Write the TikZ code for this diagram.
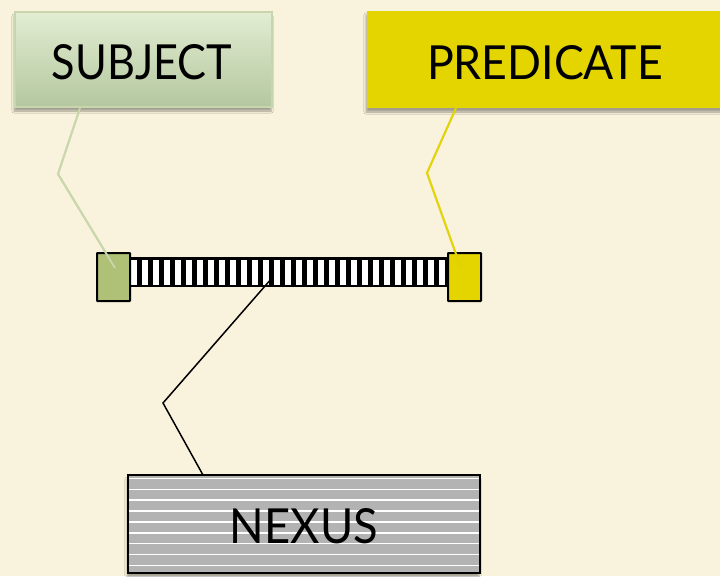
\documentclass[tikz,border=0pt]{standalone}
\usepackage{fontspec}
\setmainfont{Lato}
\usetikzlibrary{shadows.blur}
\definecolor{paper}{HTML}{F9F2DC}
\definecolor{subjtop}{HTML}{E2EDD3}
\definecolor{subjbot}{HTML}{B4C79E}
\definecolor{subjedge}{HTML}{C7D6AE}
\definecolor{subjlink}{HTML}{C8D8AA}
\definecolor{subjsq}{HTML}{AFC077}
\definecolor{predfill}{HTML}{E4D500}
\definecolor{nexusgray}{HTML}{B3B3B3}
\tikzset{
  label box/.style={minimum width=#1, inner sep=0pt, outer sep=0pt,
    blur shadow={shadow xshift=-1pt, shadow yshift=-4pt, shadow blur steps=6, shadow opacity=35}},
  big text/.style={font=\fontsize{46}{50}\selectfont},
  end square/.style={draw=black, line width=2pt, rounded corners=0.6pt, minimum width=33pt, minimum height=48pt, inner sep=0pt},
  link/.style={line width=2pt},
}
\begin{document}
\begin{tikzpicture}[x=1pt, y=-1pt]
  \useasboundingbox (0,0) rectangle (720,576);
  \fill[paper] (0,0) rectangle (720,576);

  % heading boxes
  \node[label box=257pt, minimum height=95pt, top color=subjtop, bottom color=subjbot,
        draw=subjedge, line width=1.5pt, anchor=north west] (subject) at (15,12) {};
  \node[big text] (subjtxt) at (142,62) {\resizebox{180pt}{35pt}{SUBJECT}};

  \node[label box=360pt, minimum height=97pt, fill=predfill, anchor=north west] (predicate) at (367,11) {};
  \node[big text] (predtxt) at (545,63) {\resizebox{236pt}{34pt}{PREDICATE}};

  % the link: black bar with white rungs
  \node[fill=black, minimum width=321pt, minimum height=30pt, inner sep=0pt, anchor=north west] (bar) at (128,257) {};
  \foreach \k in {0,...,28} {
    \fill[white] ({131+11*\k},260) rectangle ({137+11*\k},285);
  }
  \node[end square, fill=subjsq, anchor=north west] (sq1) at (96,252) {};
  \node[end square, fill=predfill, anchor=north west] (sq2) at (447,252) {};

  % nexus box with horizontal stripes
  \node[label box=352pt, minimum height=98pt, fill=nexusgray, anchor=north west] (nexus) at (128,475) {};
  \foreach \y in {478.3,489.2,500.1,511,521.9,532.8,543.7,554.6,565.5} {
    \draw[white, line width=1.4pt] (129,\y) -- (479,\y);
  }
  \draw[black, line width=2pt] (nexus.north west) rectangle (nexus.south east);
  \node[big text] (nexustxt) at (304,526) {\resizebox{148pt}{35pt}{NEXUS}};

  % connectors
  \coordinate (sbend) at (58,174);
  \coordinate (send) at (115,268);
  \coordinate (sstart) at (80,108);
  \coordinate (pbend) at (427,173);
  \coordinate (pend) at (461,268);
  \coordinate (pstart) at (456,108);
  \coordinate (nstart) at (272,278);
  \coordinate (nbend) at (163,403);
  \coordinate (nend) at (203,475);

  \begin{scope}[link, opacity=0.12, shift={(1.5,2)}]
    \draw (sstart) -- (sbend) -- (send);
    \draw (pstart) -- (pbend) -- (pend);
  \end{scope}
  \draw[link, subjlink] (sstart) -- (sbend) -- (send);
  \draw[link, predfill] (pstart) -- (pbend) -- (pend);
  \draw[link, black, line width=1.5pt] (nstart) -- (nbend) -- (nend);
\end{tikzpicture}
\end{document}
